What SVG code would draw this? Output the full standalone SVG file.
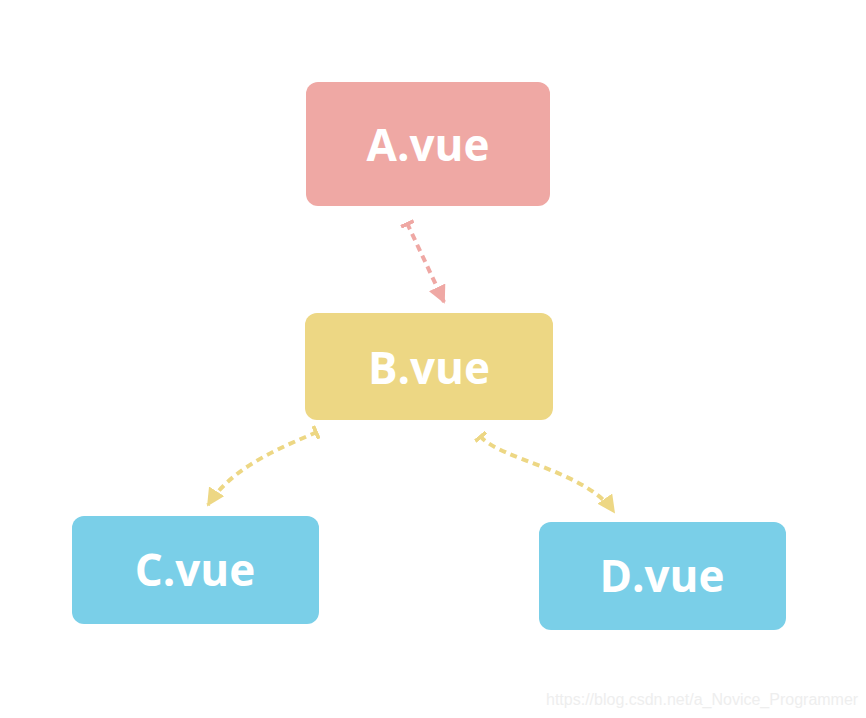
<svg xmlns="http://www.w3.org/2000/svg" width="866" height="718" viewBox="0 0 866 718">
<defs>
<style>
.lbl{font-family:"Open Sans","Lato","Liberation Sans",sans-serif;font-weight:700;font-size:44px;fill:#ffffff;text-anchor:middle}
.c{fill:none;stroke-width:4;stroke-dasharray:7 5}
.wm{font-family:"Liberation Sans",Arial,sans-serif;font-size:16px;fill:#eeeeee}
</style>
<marker id="ar" viewBox="0 0 10 10" refX="9" refY="5" markerWidth="4.5" markerHeight="4.5" orient="auto" markerUnits="strokeWidth"><path d="M0,0L10,5L0,10z" fill="#EFA8A4"/></marker>
<marker id="ay" viewBox="0 0 10 10" refX="9" refY="5" markerWidth="4.5" markerHeight="4.5" orient="auto" markerUnits="strokeWidth"><path d="M0,0L10,5L0,10z" fill="#EDD784"/></marker>
<marker id="tr" viewBox="0 0 4 14" refX="1" refY="7" markerWidth="1" markerHeight="3.5" orient="auto" markerUnits="strokeWidth"><rect x="0" y="0" width="4" height="14" fill="#EFA8A4"/></marker>
<marker id="ty" viewBox="0 0 4 14" refX="1" refY="7" markerWidth="1" markerHeight="3.5" orient="auto" markerUnits="strokeWidth"><rect x="0" y="0" width="4" height="14" fill="#EDD784"/></marker>
</defs>
<rect width="866" height="718" fill="#ffffff"/>
<g id="connectors">
<path class="c" d="M407,223 L444,302" stroke="#EFA8A4" marker-start="url(#tr)" marker-end="url(#ar)"/>
<path class="c" d="M317,432 C280,448 232,467 208,505" stroke="#EDD784" marker-start="url(#ty)" marker-end="url(#ay)"/>
<path class="c" d="M480,436 C500,460 585,470 614,512" stroke="#EDD784" marker-start="url(#ty)" marker-end="url(#ay)"/>
</g>
<g id="A"><rect x="306" y="82" width="244" height="124" rx="12" fill="#EFA8A4"/><text class="lbl" x="428" y="161">A.vue</text></g>
<g id="B"><rect x="305" y="313" width="248" height="107" rx="12" fill="#EDD784"/><text class="lbl" x="429" y="384">B.vue</text></g>
<g id="C"><rect x="72" y="516" width="247" height="108" rx="12" fill="#7ACFE8"/><text class="lbl" x="195" y="586">C.vue</text></g>
<g id="D"><rect x="539" y="522" width="247" height="108" rx="12" fill="#7ACFE8"/><text class="lbl" x="662" y="592">D.vue</text></g>
<text class="wm" x="546" y="705">https://blog.csdn.net/a_Novice_Programmer</text>
</svg>
